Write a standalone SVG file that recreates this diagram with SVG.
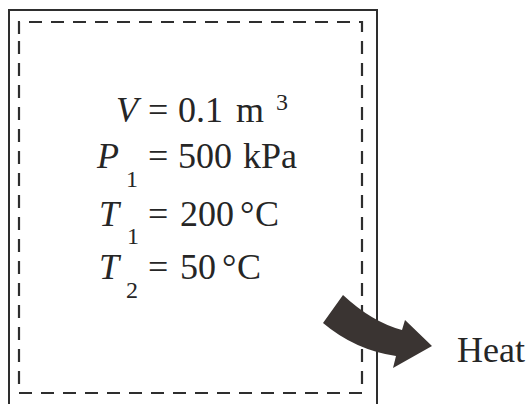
<svg xmlns="http://www.w3.org/2000/svg" width="532" height="404" viewBox="0 0 532 404">
<style>
.t{font-family:"Liberation Serif","Times New Roman",serif;font-size:36px;fill:#262626}
.i{font-style:italic}
.s{font-size:24px}
.box{fill:none;stroke:#2e2e2e;stroke-width:2}
.dash{fill:none;stroke:#2e2e2e;stroke-width:2.2;stroke-dasharray:13 9}
</style>
<rect width="532" height="404" fill="#ffffff"/>
<g id="system-boundary">
<path class="box" d="M9,406 L9,10 L377,10 L377,406"/>
</g>
<g id="control-volume">
<path class="dash" d="M19,34 L19,22 L362,22 L362,393 L19,393 L19,34"/>
</g>
<g id="properties">
<text class="t" y="122"><tspan class="i" x="116">V</tspan><tspan x="148">=</tspan><tspan x="178">0.1</tspan><tspan x="236">m</tspan><tspan class="s" x="276" y="110">3</tspan></text>
<text class="t" y="168"><tspan class="i" x="97">P</tspan><tspan class="s" x="126" y="187">1</tspan><tspan x="148" y="168">=</tspan><tspan x="178">500</tspan><tspan x="243">kPa</tspan></text>
<text class="t" y="226"><tspan class="i" x="99">T</tspan><tspan class="s" x="127" y="244">1</tspan><tspan x="148" y="226">=</tspan><tspan x="180">200</tspan><tspan x="240">°</tspan><tspan x="255">C</tspan></text>
<text class="t" y="279"><tspan class="i" x="99">T</tspan><tspan class="s" x="126" y="298">2</tspan><tspan x="148" y="279">=</tspan><tspan x="180">50</tspan><tspan x="222">°</tspan><tspan x="237">C</tspan></text>
</g>
<g id="heat-arrow">
<path d="M343,295 Q372,322 402,330 L405,320 L432,346 L393,368 L396,356 Q355,350 323,323 Z" fill="#3a3432"/>
</g>
<g id="heat-label">
<text class="t" x="457" y="362">Heat</text>
</g>
</svg>
